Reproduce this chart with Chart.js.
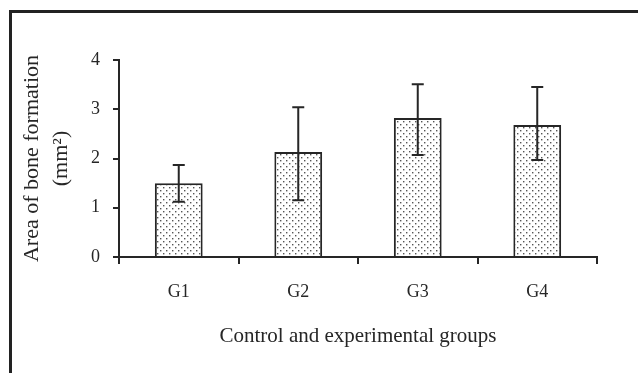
<!DOCTYPE html>
<html>
<head>
<meta charset="utf-8">
<script src="https://cdn.jsdelivr.net/npm/chart.js@4.4.1/dist/chart.umd.min.js"></script>
<style>
  html, body { margin:0; padding:0; background:#fff; }
  #wrap { position:relative; width:638px; height:373px; overflow:hidden; }
  #frame { position:absolute; left:9px; top:10px; width:700px; height:500px; border-left:3px solid #222; border-top:3px solid #222; }
  canvas { position:absolute; left:0; top:0; }
</style>
</head>
<body>
<div id="wrap">
  <div id="frame"></div>
  <canvas id="chart" width="638" height="373"></canvas>
</div>
<script>
// data
const groups = ["G1", "G2", "G3", "G4"];
const means = [1.50, 2.13, 2.82, 2.68];
const errHigh = [1.87, 3.04, 3.51, 3.45];
const errLow = [1.12, 1.15, 2.07, 1.97];
const yTicks = [0, 1, 2, 3, 4];

const ink = "#262626";
const serif = "'Liberation Serif', 'DejaVu Serif', serif";

// stipple fill like the original
function dotPattern() {
  const c = document.createElement("canvas");
  c.width = 6; c.height = 6;
  const g = c.getContext("2d");
  g.fillStyle = "#fff";
  g.fillRect(0, 0, 6, 6);
  g.fillStyle = "#555";
  g.fillRect(1, 1, 1.4, 1.4);
  g.fillRect(4, 4, 1.4, 1.4);
  return g.createPattern(c, "repeat");
}

const errorBars = {
  id: "errorBars",
  afterDatasetsDraw(chart) {
    const { ctx, scales: { x, y } } = chart;
    ctx.save();
    ctx.strokeStyle = ink;
    ctx.lineWidth = 2;
    groups.forEach((g, i) => {
      const cx = x.getPixelForValue(i);
      const top = y.getPixelForValue(errHigh[i]);
      const bot = y.getPixelForValue(errLow[i]);
      ctx.beginPath();
      ctx.moveTo(cx, top); ctx.lineTo(cx, bot);
      ctx.moveTo(cx - 6, top); ctx.lineTo(cx + 6, top);
      ctx.moveTo(cx - 6, bot); ctx.lineTo(cx + 6, bot);
      ctx.stroke();
    });
    ctx.restore();
  }
};

new Chart(document.getElementById("chart"), {
  type: "bar",
  data: {
    labels: groups,
    datasets: [{
      data: means,
      backgroundColor: dotPattern(),
      borderColor: ink,
      borderWidth: 2,
      borderSkipped: "bottom",
      barPercentage: 0.8,
      categoryPercentage: 0.5
    }]
  },
  options: {
    responsive: false,
    animation: false,
    layout: { padding: { left: 18, right: 41, top: 60, bottom: 20 } },
    plugins: { legend: { display: false }, tooltip: { enabled: false } },
    scales: {
      y: {
        min: 0, max: 4,
        afterBuildTicks: s => { s.ticks = yTicks.map(v => ({ value: v })); },
        border: { color: ink, width: 2 },
        grid: { drawOnChartArea: false, drawTicks: true, tickLength: 6, color: ink, lineWidth: 2 },
        ticks: { color: ink, font: { family: serif, size: 18 }, padding: 13 },
        title: {
          display: true,
          text: ["Area of bone formation", "(mm\u00B2)"],
          color: ink,
          font: { family: serif, size: 22, lineHeight: 1.3 },
          padding: { top: 0, bottom: 4 }
        },
        afterFit: s => { s.width = 101; }
      },
      x: {
        border: { color: ink, width: 2 },
        grid: { drawOnChartArea: false, drawTicks: true, tickLength: 7, color: ink, lineWidth: 2, offset: true },
        ticks: { color: ink, font: { family: serif, size: 18 }, padding: 17 },
        title: {
          display: true,
          text: "Control and experimental groups",
          color: ink,
          font: { family: serif, size: 21 },
          padding: { top: 14 }
        },
        afterFit: s => { s.height = 96; }
      }
    }
  },
  plugins: [errorBars]
});
</script>
</body>
</html>
